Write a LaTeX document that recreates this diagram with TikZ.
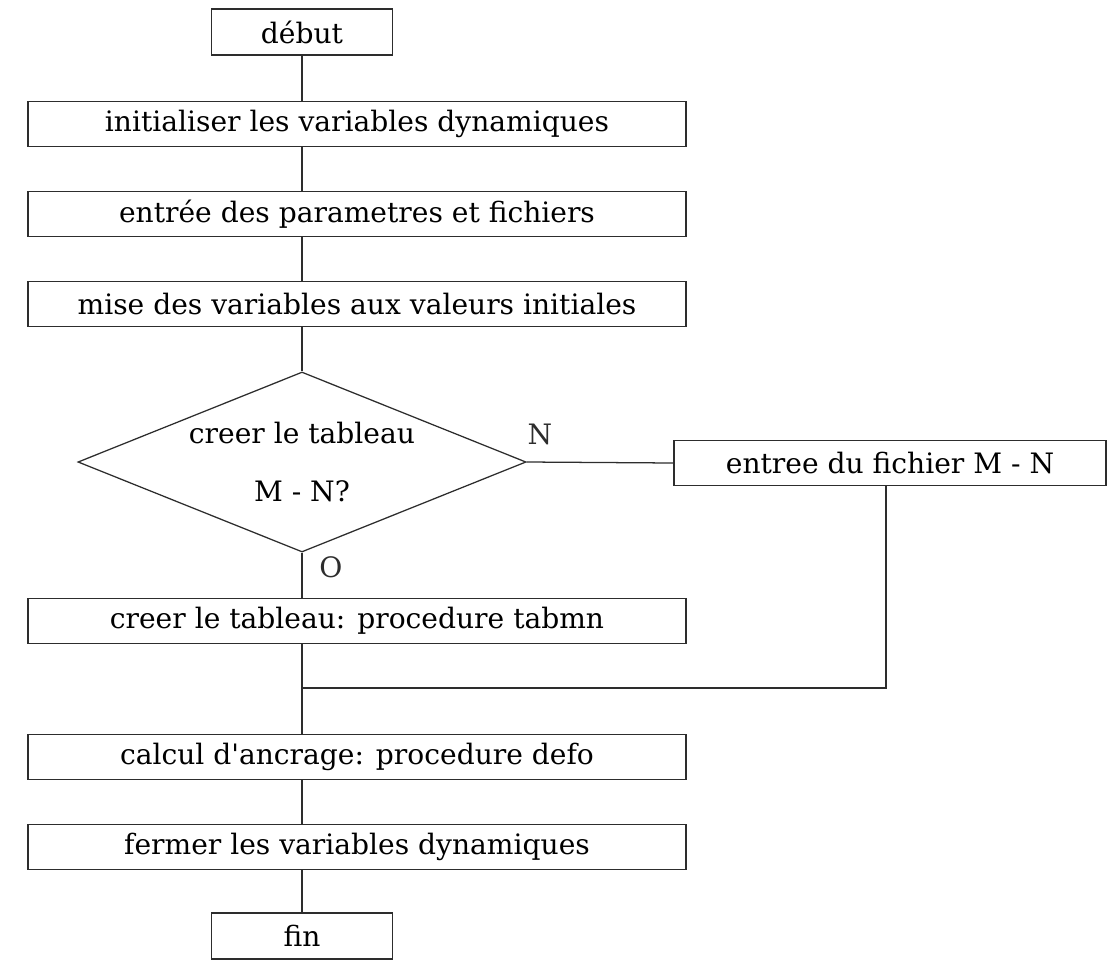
\documentclass[tikz,border=0pt]{standalone}
\usepackage{fontspec}
\setmainfont{DejaVu Serif}
\usetikzlibrary{shapes.geometric,positioning,calc}
\definecolor{ink}{RGB}{45,45,45}
\tikzset{
  term/.style={draw=ink,line width=0.9pt,minimum width=4.525cm,minimum height=1.15cm,
    inner sep=0pt,font=\fontsize{20}{24}\selectfont},
  proc/.style={draw=ink,line width=0.9pt,minimum width=#1,minimum height=1.12cm,
    inner sep=0pt,font=\fontsize{20}{24}\selectfont},
  proc/.default=16.45cm,
  decision/.style={diamond,draw=ink,line width=0.9pt,minimum width=11.2cm,minimum height=4.5cm,
    aspect=2.47,inner sep=0pt,align=center,font=\fontsize{20}{24}\selectfont},
  link/.style={draw=ink,line width=0.9pt},
  tag/.style={font=\fontsize{20}{24}\selectfont,text=ink},
}

\begin{document}
\begin{tikzpicture}[x=0.025cm,y=-0.025cm]
  \useasboundingbox (0,0) rectangle (1109,960);
  % main column
  \node[term] (debut) at (302,32) {début};
  \node[proc] (init) at (357,124) {initialiser les variables dynamiques};
  \node[proc] (param) at (357,214) {entrée des parametres et fichiers};
  \node[proc] (mise) at (357,304) {mise des variables aux valeurs initiales};
  \node[decision] (test) at (302,462) {creer le tableau\\[17pt]M - N?};
  \node[proc=10.8cm] (entree) at (890,463) {entree du fichier M - N};
  \node[proc] (creer) at (357,621) {creer le tableau: procedure tabmn};
  \coordinate (merge) at (302,688);
  \node[proc] (calcul) at (357,757) {calcul d\textquotesingle ancrage: procedure defo};
  \node[proc] (fermer) at (357,847) {fermer les variables dynamiques};
  \node[term] (fin) at (302,936) {fin};
  \node[tag] (lblN) at (540,434) {N};
  \node[tag] (lblO) at (331,567) {O};
  % links
  \draw[link] (debut.south) -- (debut.south |- init.north);
  \draw[link] (debut.south |- init.south) -- (debut.south |- param.north);
  \draw[link] (debut.south |- param.south) -- (debut.south |- mise.north);
  \draw[link] (debut.south |- mise.south) -- (test.north);
  \draw[link] (test.east) -- (entree.west);
  \draw[link] (test.south) -- (test.south |- creer.north);
  \draw[link] (test.south |- creer.south) -- (merge) -- (merge |- calcul.north);
  \draw[link] (entree.south -| 886,0) -- (merge -| 886,0) -- (merge);
  \draw[link] (merge |- calcul.south) -- (merge |- fermer.north);
  \draw[link] (merge |- fermer.south) -- (fin.north);
\end{tikzpicture}
\end{document}
